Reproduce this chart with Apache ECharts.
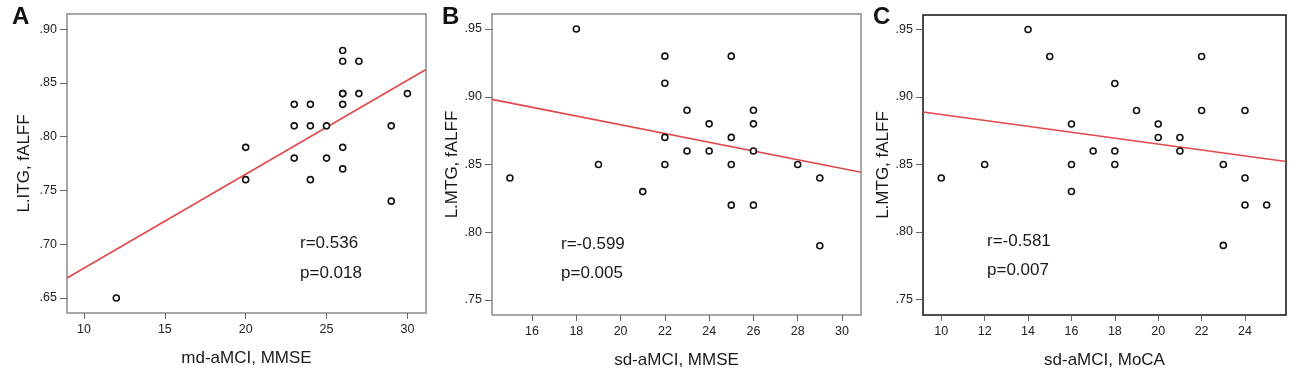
<!DOCTYPE html>
<html><head><meta charset="utf-8">
<script src="https://cdn.jsdelivr.net/npm/echarts@6/dist/echarts.min.js"></script>
<style>html,body{margin:0;padding:0;background:#fff}#c{width:1300px;height:382px}</style>
</head><body><div id="c"></div>
<script>
// Panel A: md-aMCI, MMSE vs L.ITG fALFF
const pointsA = [[12,0.65],[20,0.79],[20,0.76],[23,0.83],[23,0.81],[23,0.78],[24,0.83],[24,0.81],[24,0.76],
  [25,0.81],[25,0.78],[26,0.88],[26,0.87],[26,0.84],[26,0.84],[26,0.83],[26,0.79],[26,0.77],[27,0.87],[27,0.84],
  [29,0.81],[29,0.74],[30,0.84]];
const fitA = [[8.95,0.6686],[31.15,0.8624]];
const xTicksA = [10,15,20,25,30];
const yTicksA = [0.65,0.70,0.75,0.80,0.85,0.90];
const statsA = ['r=0.536','p=0.018'];

// Panel B: sd-aMCI, MMSE vs L.MTG fALFF
const pointsB = [[15,0.84],[18,0.95],[19,0.85],[21,0.83],[22,0.93],[22,0.91],[22,0.87],[22,0.85],[23,0.89],[23,0.86],
  [24,0.88],[24,0.86],[25,0.93],[25,0.87],[25,0.85],[25,0.82],[26,0.89],[26,0.88],[26,0.86],[26,0.82],[28,0.85],
  [29,0.84],[29,0.79]];
const fitB = [[14.19,0.8981],[30.86,0.8443]];
const xTicksB = [16,18,20,22,24,26,28,30];
const yTicksB = [0.75,0.80,0.85,0.90,0.95];
const statsB = ['r=-0.599','p=0.005'];

// Panel C: sd-aMCI, MoCA vs L.MTG fALFF
const pointsC = [[10,0.84],[12,0.85],[14,0.95],[15,0.93],[16,0.88],[16,0.85],[16,0.83],[17,0.86],[18,0.91],[18,0.86],
  [18,0.85],[19,0.89],[20,0.88],[20,0.87],[21,0.87],[21,0.86],[22,0.93],[22,0.89],[23,0.85],[23,0.79],[24,0.89],
  [24,0.84],[24,0.82],[25,0.82]];
const fitC = [[9.157,0.8889],[25.89,0.8522]];
const xTicksC = [10,12,14,16,18,20,22,24];
const yTicksC = [0.75,0.80,0.85,0.90,0.95];
const statsC = ['r=-0.581','p=0.007'];

const FONT = '"Liberation Sans", Arial, sans-serif';
const panels = [
  {pts:pointsA, fit:fitA, xt:xTicksA, yt:yTicksA, xr:[8.95,31.15], yr:[0.636,0.914], xname:'md-aMCI, MMSE', yname:'L.ITG, fALFF',
   grid:{left:67,top:14,width:359,height:299}, frame:'#8c8c8c', ygap:34},
  {pts:pointsB, fit:fitB, xt:xTicksB, yt:yTicksB, xr:[14.19,30.86], yr:[0.7389,0.9611], xname:'sd-aMCI, MMSE', yname:'L.MTG, fALFF',
   grid:{left:492,top:14,width:369,height:301}, frame:'#8c8c8c', ygap:29},
  {pts:pointsC, fit:fitC, xt:xTicksC, yt:yTicksC, xr:[9.157,25.89], yr:[0.7384,0.9608], xname:'sd-aMCI, MoCA', yname:'L.MTG, fALFF',
   grid:{left:923,top:15,width:363,height:300}, frame:'#111', ygap:29}
];

const grids=[], xAxes=[], yAxes=[], series=[];
panels.forEach((p,i)=>{
  grids.push(Object.assign({show:true, borderColor:p.frame, borderWidth:1.5, backgroundColor:'#fff'}, p.grid));
  xAxes.push({type:'value', gridIndex:i, min:p.xr[0], max:p.xr[1], splitLine:{show:false},
    axisLine:{show:false}, name:p.xname, nameLocation:'middle', nameGap:37,
    nameTextStyle:{fontFamily:FONT, fontSize:17, color:'#1a1a1a'},
    axisTick:{show:true, inside:false, length:6, lineStyle:{color:'#666',width:1}, customValues:p.xt},
    axisLabel:{customValues:p.xt, fontFamily:FONT, fontSize:12.5, color:'#222', margin:10}});
  yAxes.push({type:'value', gridIndex:i, min:p.yr[0], max:p.yr[1], splitLine:{show:false},
    axisLine:{show:false}, name:p.yname, nameLocation:'middle', nameGap:p.ygap, nameRotate:90,
    nameTextStyle:{fontFamily:FONT, fontSize:17, color:'#1a1a1a'},
    axisTick:{show:true, inside:false, length:7, lineStyle:{color:'#666',width:1}, customValues:p.yt},
    axisLabel:{customValues:p.yt, fontFamily:FONT, fontSize:12.5, color:'#222', margin:10,
      formatter:v=>v.toFixed(2).replace(/^0/,'')}});
  series.push({type:'line', xAxisIndex:i, yAxisIndex:i, data:p.fit, symbol:'none', silent:true,
    lineStyle:{color:'#e2494b', width:1.6}, z:2});
  series.push({type:'scatter', xAxisIndex:i, yAxisIndex:i, data:p.pts, symbol:'circle', symbolSize:6,
    itemStyle:{color:'#fff', borderColor:'#111', borderWidth:1.6, opacity:1}, z:3});
});

const statPos = [[300,243,273],[561,244,273],[987,241,270]];
const graphic = [];
[statsA,statsB,statsC].forEach((s,i)=>{
  s.forEach((t,j)=>graphic.push({type:'text', x:statPos[i][0], y:statPos[i][1+j],
    style:{text:t, font:'17px '+FONT, fill:'#1a1a1a', verticalAlign:'middle', align:'left'}}));
});
[['A',12],['B',442],['C',873]].forEach(([t,x])=>graphic.push({type:'text', x:x, y:17,
  style:{text:t, font:'bold 24px '+FONT, fill:'#111', verticalAlign:'middle', align:'left'}}));

const chart = echarts.init(document.getElementById('c'), null, {renderer:'canvas'});
chart.setOption({animation:false, backgroundColor:'#fff', grid:grids, xAxis:xAxes, yAxis:yAxes, series:series, graphic:graphic});
</script></body></html>
